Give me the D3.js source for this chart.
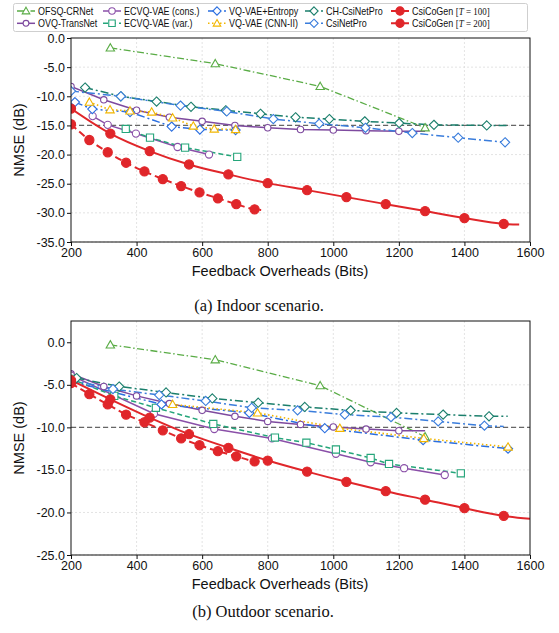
<!DOCTYPE html>
<html>
<head>
<meta charset="utf-8">
<script src="https://cdn.jsdelivr.net/npm/d3@7"></script>
<style>
  body { margin: 0; background: #fff; }
  svg text { font-family: "Liberation Sans", Arial, sans-serif; }
</style>
</head>
<body>
<div id="chart"></div>
<script>
// ---- data ----
const xTicks = [200, 400, 600, 800, 1000, 1200, 1400, 1600];
const indoorYTicks = [0, -5, -10, -15, -20, -25, -30, -35];
const outdoorYTicks = [0, -5, -10, -15, -20, -25];

const seriesNames = ["OFSQ-CRNet", "OVQ-TransNet", "ECVQ-VAE (cons.)", "ECVQ-VAE (var.)",
  "VQ-VAE+Entropy", "VQ-VAE (CNN-II)", "CH-CsiNetPro", "CsiNetPro",
  "CsiCoGen [T = 100]", "CsiCoGen [T = 200]"];

// indoor: [bits, NMSE dB]
const inOFSQ = [[320, -1.7], [640, -4.4], [960, -8.3], [1280, -15.4]];
const inOVQ = [[200, -8.3], [300, -10.6], [400, -12.4], [500, -13.6], [600, -14.3], [700, -15.0], [800, -15.4], [900, -15.7], [1000, -15.8], [1100, -15.9], [1200, -16.0]];
const inOVQTail = [1280, -16.0];
const inECVQc = [[266, -13.4], [312, -14.9], [398, -16.4], [525, -18.7], [621, -20.0]];
const inECVQv = [[367, -15.6], [441, -17.1], [548, -18.8], [707, -20.4]];
const inVQE = [[212, -11.0], [265, -12.2], [380, -12.7], [507, -15.2], [593, -15.7], [702, -15.8]];
const inCNN = [[256, -11.0], [319, -12.3], [380, -12.5], [446, -12.7], [510, -13.7], [573, -15.1], [637, -15.6], [702, -15.7]];
const inCH = [[243, -8.5], [352, -10.0], [461, -10.9], [566, -11.8], [672, -12.4], [778, -13.0], [885, -13.6], [988, -13.9], [1096, -14.3], [1201, -14.6], [1307, -14.9], [1468, -15.0]];
const inCHTail = [1538, -15.0];
const inCNP = [[200, -9.1], [352, -10.0], [534, -11.6], [675, -12.6], [817, -13.9], [957, -14.7], [1098, -15.4], [1241, -16.3], [1381, -17.1], [1524, -17.9]];
const inG100 = [[200, -12.1], [320, -16.4], [440, -19.4], [560, -21.7], [680, -23.4], [800, -24.9], [920, -26.1], [1040, -27.3], [1160, -28.5], [1280, -29.7], [1400, -30.9], [1520, -31.9]];
const inG100Tail = [1567, -32.0];
const inG200 = [[200, -14.8], [256, -17.5], [312, -19.6], [368, -21.4], [424, -22.9], [480, -24.2], [536, -25.4], [592, -26.5], [648, -27.5], [704, -28.5], [760, -29.4]];
const inG200Tail = [780, -29.5];
const inRef = -15;

// outdoor
const outOFSQ = [[320, -0.3], [640, -2.05], [960, -5.1], [1280, -11.1]];
const outOVQ = [[200, -3.7], [300, -5.2], [400, -6.3], [500, -7.2], [600, -8.0], [700, -8.7], [800, -9.3], [900, -9.65], [1000, -9.95], [1100, -10.2], [1200, -10.4]];
const outOVQTail = [1280, -10.4];
const outECVQc = [[200, -3.9], [453, -8.4], [637, -10.2], [813, -11.3], [1008, -13.1], [1114, -14.1], [1216, -14.8], [1340, -15.6]];
const outECVQv = [[200, -4.3], [332, -6.3], [459, -7.7], [634, -9.6], [822, -11.2], [918, -11.8], [1008, -12.6], [1114, -13.6], [1170, -14.3], [1389, -15.4]];
const outVQE = [[200, -4.6], [476, -7.3], [744, -8.3], [974, -10.1], [1274, -11.5], [1533, -12.5]];
const outCNN = [[510, -7.3], [769, -8.3], [1020, -10.1], [1276, -11.3], [1533, -12.3]];
const outCH = [[217, -4.2], [347, -5.2], [490, -5.9], [631, -6.6], [771, -7.1], [913, -7.6], [1053, -8.0], [1193, -8.3], [1335, -8.5], [1475, -8.7]];
const outCHTail = [1532, -8.7];
const outCNP = [[200, -4.4], [328, -5.5], [469, -6.2], [611, -6.9], [751, -7.7], [891, -8.0], [1035, -8.5], [1176, -8.8], [1320, -9.3], [1461, -9.8]];
const outCNPTail = [1520, -9.9];
const outG100 = [[200, -4.45], [320, -6.7], [440, -8.85], [560, -10.8], [680, -12.4], [800, -13.9], [920, -15.2], [1040, -16.4], [1160, -17.5], [1280, -18.5], [1400, -19.5], [1520, -20.4]];
const outG100Tail = [1600, -20.75];
const outG200 = [[200, -4.8], [256, -6.1], [312, -7.3], [368, -8.5], [424, -9.4], [480, -10.35], [536, -11.3], [592, -12.1], [648, -12.8], [704, -13.4], [760, -14.0]];
const outG200Tail = [780, -14.1];
const outRef = -10;

// ---- styles ----
const styles = {
  "OFSQ-CRNet":        { color: "#5aac46", dash: "7,2.5,1.5,2.5", shape: "tri", r: 4.2, w: 1.3 },
  "OVQ-TransNet":      { color: "#7e4a9f", dash: null, shape: "circle", r: 3.2, w: 1.5 },
  "ECVQ-VAE (cons.)":  { color: "#8a4fa8", dash: null, shape: "circle", r: 3.6, w: 1.5 },
  "ECVQ-VAE (var.)":   { color: "#25a57a", dash: "5,3", shape: "square", r: 3.6, w: 1.5 },
  "VQ-VAE+Entropy":    { color: "#2b6fe0", dash: "8,3,2,3", shape: "diamond", r: 4.6, w: 1.5 },
  "VQ-VAE (CNN-II)":   { color: "#f2b600", dash: "1.5,2.5", shape: "tri", r: 4.2, w: 1.6 },
  "CH-CsiNetPro":      { color: "#1b7f6c", dash: "8,3,2,3", shape: "diamond", r: 4.6, w: 1.5 },
  "CsiNetPro":         { color: "#3a7ddc", dash: "8,3,2,3", shape: "diamond", r: 4.6, w: 1.5 },
  "CsiCoGen [T = 100]": { color: "#e0262a", dash: null, shape: "dot", r: 4.6, w: 2 },
  "CsiCoGen [T = 200]": { color: "#e0262a", dash: "7,4", shape: "dot", r: 4.6, w: 2 }
};

const width = 559, height = 633;
const svg = d3.select("#chart").append("svg")
  .attr("width", width).attr("height", height);

function markerPath(shape, r) {
  if (shape === "tri") return `M0,${-r}L${r},${r * 0.75}L${-r},${r * 0.75}Z`;
  if (shape === "diamond") return `M0,${-r}L${r},0L0,${r}L${-r},0Z`;
  if (shape === "square") return `M${-r},${-r}H${r}V${r}H${-r}Z`;
  return null;
}

function drawMarker(g, s, x, y) {
  if (s.shape === "circle" || s.shape === "dot") {
    g.append("circle").attr("cx", x).attr("cy", y).attr("r", s.r)
      .attr("fill", s.shape === "dot" ? s.color : "#fff")
      .attr("stroke", s.color).attr("stroke-width", 1.1);
  } else {
    g.append("path").attr("transform", `translate(${x},${y})`)
      .attr("d", markerPath(s.shape, s.r))
      .attr("fill", "#fff").attr("stroke", s.color).attr("stroke-width", 1.1);
  }
}

function drawPanel(cfg) {
  const x = d3.scaleLinear().domain([200, 1600]).range([cfg.left, cfg.right]);
  const y = d3.scaleLinear().domain(cfg.yDomain).range([cfg.bottom, cfg.top]);
  const g = svg.append("g");

  // grid
  g.append("g").selectAll("line").data(xTicks.slice(1, -1)).join("line")
    .attr("x1", d => x(d)).attr("x2", d => x(d))
    .attr("y1", cfg.top).attr("y2", cfg.bottom)
    .attr("stroke", "#dcdcdc").attr("stroke-width", 0.8).attr("stroke-dasharray", "2,2");
  g.append("g").selectAll("line").data(cfg.yTicks.slice(1)).join("line")
    .attr("x1", cfg.left).attr("x2", cfg.right)
    .attr("y1", d => y(d)).attr("y2", d => y(d))
    .attr("stroke", "#dcdcdc").attr("stroke-width", 0.8).attr("stroke-dasharray", "2,2");

  // reference line
  g.append("line").attr("x1", cfg.left).attr("x2", cfg.right)
    .attr("y1", y(cfg.ref)).attr("y2", y(cfg.ref))
    .attr("stroke", "#666").attr("stroke-width", 1.3).attr("stroke-dasharray", "5,3");

  const clip = "clip" + cfg.id;
  svg.append("clipPath").attr("id", clip).append("rect")
    .attr("x", cfg.left).attr("y", cfg.top)
    .attr("width", cfg.right - cfg.left).attr("height", cfg.bottom - cfg.top);

  const lines = g.append("g").attr("clip-path", `url(#${clip})`);
  cfg.series.forEach(sr => {
    const s = styles[sr.name];
    const pts = sr.tail ? sr.pts.concat([sr.tail]) : sr.pts;
    const curve = s.shape === "dot" ? d3.curveMonotoneX : d3.curveLinear;
    const line = d3.line().x(d => x(d[0])).y(d => y(d[1])).curve(curve);
    lines.append("path").attr("d", line(pts))
      .attr("fill", "none").attr("stroke", s.color).attr("stroke-width", s.w)
      .attr("stroke-dasharray", s.dash);
  });
  cfg.series.forEach(sr => {
    const s = styles[sr.name];
    sr.pts.forEach(p => drawMarker(lines, s, x(p[0]), y(p[1])));
  });

  // axes
  const fmt = d => d.toFixed(1);
  const ax = g.append("g").attr("transform", `translate(0,${cfg.bottom})`)
    .call(d3.axisBottom(x).tickValues(xTicks).tickSize(4).tickPadding(2).tickFormat(d3.format("d")));
  const ay = g.append("g").attr("transform", `translate(${cfg.left},0)`)
    .call(d3.axisLeft(y).tickValues(cfg.yTicks).tickSize(4).tickPadding(2).tickFormat(fmt));
  [ax, ay].forEach(a => {
    a.select(".domain").remove();
    a.selectAll("text").attr("font-size", 12.5).attr("fill", "#111")
      .attr("font-family", "Liberation Sans, Arial, sans-serif");
    a.selectAll("line").attr("stroke", "#111");
  });

  g.append("rect").attr("x", cfg.left).attr("y", cfg.top)
    .attr("width", cfg.right - cfg.left).attr("height", cfg.bottom - cfg.top)
    .attr("fill", "none").attr("stroke", "#111").attr("stroke-width", 1);

  g.append("text").attr("transform", `translate(24,${(cfg.top + cfg.bottom) / 2}) rotate(-90)`)
    .attr("text-anchor", "middle").attr("font-size", 14.5).attr("fill", "#111")
    .text("NMSE (dB)");
  g.append("text").attr("x", 280).attr("y", cfg.bottom + 34)
    .attr("text-anchor", "middle").attr("font-size", 14.5).attr("fill", "#111")
    .text("Feedback Overheads (Bits)");
  g.append("text").attr("x", cfg.capX).attr("y", cfg.capY)
    .attr("text-anchor", "middle").attr("font-size", 16.5).attr("fill", "#111")
    .style("font-family", "Liberation Serif, Times New Roman, serif")
    .text(cfg.caption);
}

drawPanel({
  id: "a", left: 71, right: 530, top: 38, bottom: 242, yDomain: [-35, 0], yTicks: indoorYTicks,
  ref: inRef, caption: "(a) Indoor scenario.", capX: 259, capY: 311,
  series: [
    { name: seriesNames[0], pts: inOFSQ },
    { name: seriesNames[1], pts: inOVQ, tail: inOVQTail },
    { name: seriesNames[2], pts: inECVQc },
    { name: seriesNames[3], pts: inECVQv },
    { name: seriesNames[4], pts: inVQE },
    { name: seriesNames[5], pts: inCNN },
    { name: seriesNames[6], pts: inCH, tail: inCHTail },
    { name: seriesNames[7], pts: inCNP },
    { name: seriesNames[8], pts: inG100, tail: inG100Tail },
    { name: seriesNames[9], pts: inG200, tail: inG200Tail }
  ]
});

drawPanel({
  id: "b", left: 71, right: 530, top: 321, bottom: 555, yDomain: [-25, 2.5], yTicks: outdoorYTicks,
  ref: outRef, caption: "(b) Outdoor scenario.", capX: 263, capY: 617,
  series: [
    { name: seriesNames[0], pts: outOFSQ },
    { name: seriesNames[1], pts: outOVQ, tail: outOVQTail },
    { name: seriesNames[2], pts: outECVQc },
    { name: seriesNames[3], pts: outECVQv },
    { name: seriesNames[4], pts: outVQE },
    { name: seriesNames[5], pts: outCNN },
    { name: seriesNames[6], pts: outCH, tail: outCHTail },
    { name: seriesNames[7], pts: outCNP, tail: outCNPTail },
    { name: seriesNames[8], pts: outG100, tail: outG100Tail },
    { name: seriesNames[9], pts: outG200, tail: outG200Tail }
  ]
});

// ---- legend ----
const legend = svg.append("g");
legend.append("rect").attr("x", 13.5).attr("y", 3.5).attr("width", 514).attr("height", 28)
  .attr("rx", 2).attr("fill", "#fff").attr("stroke", "#cfcfcf");
const colX = [17, 103, 208, 305, 391];
const rowY = [11, 23.3];
// column-major: two rows per column
seriesNames.forEach((name, i) => {
  const s = styles[name];
  const cx = colX[Math.floor(i / 2)], cy = rowY[i % 2];
  legend.append("line").attr("x1", cx).attr("x2", cx + 18).attr("y1", cy).attr("y2", cy)
    .attr("stroke", s.color).attr("stroke-width", s.w).attr("stroke-dasharray", s.dash);
  drawMarker(legend, Object.assign({}, s, { r: s.r * 0.9 }), cx + 9, cy);
  // the legend face is narrower than Liberation Sans, so squeeze it horizontally
  const t = legend.append("text")
    .attr("transform", `translate(${cx + 21},${cy + 3.7}) scale(0.87,1)`)
    .attr("font-size", 10.3).attr("fill", "#111");
  const m = name.match(/^(.*)\[T = (\d+)\]$/);
  if (m) {
    t.append("tspan").text(m[1]);
    const serif = "Liberation Serif, serif";
    t.append("tspan").style("font-family", serif).text("[");
    t.append("tspan").style("font-family", serif).attr("font-style", "italic").text("T");
    t.append("tspan").style("font-family", serif).text(" = " + m[2] + "]");
  } else {
    t.text(name);
  }
});
</script>
</body>
</html>
